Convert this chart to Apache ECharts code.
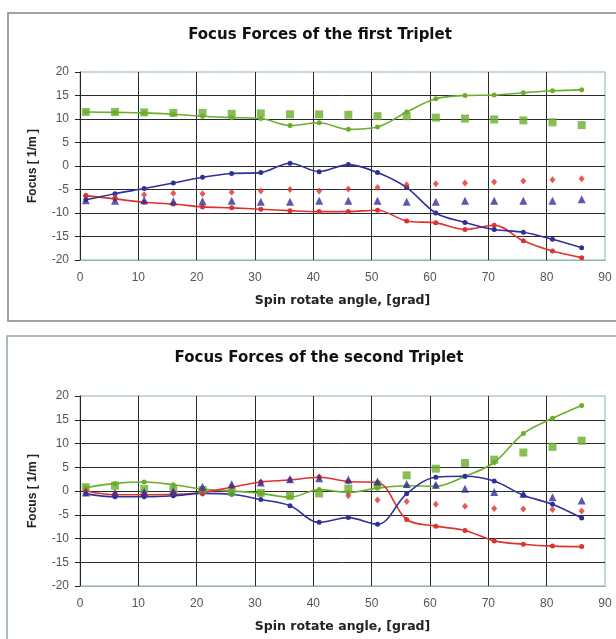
<!DOCTYPE html>
<html>
<head>
<meta charset="utf-8">
<script src="https://cdn.jsdelivr.net/npm/echarts@6/dist/echarts.min.js"></script>
<style>
html,body{margin:0;padding:0;background:#fff;}
#chart{width:616px;height:639px;}
</style>
</head>
<body>
<div id="chart"></div>
<script>
// ---- data ----
var angles = [1, 6, 11, 16, 21, 26, 31, 36, 41, 46, 51, 56, 61, 66, 71, 76, 81, 86];
var xTicks = [0, 10, 20, 30, 40, 50, 60, 70, 80, 90];
var yTicks = [-20, -15, -10, -5, 0, 5, 10, 15, 20];

// first triplet
var t1GreenLine  = [11.5, 11.4, 11.3, 11.0, 10.6, 10.3, 10.1, 8.6, 9.2, 7.8, 8.3, 11.5, 14.3, 15.0, 15.1, 15.6, 16.0, 16.2];
var t1GreenPts   = [11.5, 11.5, 11.4, 11.3, 11.3, 11.1, 11.2, 11.0, 11.0, 10.9, 10.6, 10.6, 10.3, 10.1, 9.9, 9.7, 9.3, 8.7];
var t1RedLine    = [-6.3, -7.0, -7.7, -8.1, -8.7, -8.9, -9.2, -9.5, -9.7, -9.7, -9.4, -11.7, -12.1, -13.5, -12.6, -15.9, -18.1, -19.5];
var t1RedPts     = [-6.4, -6.7, -6.1, -5.8, -5.9, -5.6, -5.3, -5.0, -5.3, -4.9, -4.6, -4.0, -3.8, -3.6, -3.4, -3.2, -2.9, -2.7];
var t1BlueLine   = [-7.2, -5.9, -4.8, -3.6, -2.4, -1.6, -1.4, 0.6, -1.2, 0.3, -1.4, -4.6, -10.0, -12.0, -13.5, -14.1, -15.6, -17.4];
var t1BluePts    = [-7.3, -7.4, -7.3, -7.5, -7.5, -7.4, -7.6, -7.6, -7.4, -7.4, -7.4, -7.6, -7.6, -7.4, -7.4, -7.4, -7.4, -7.1];

// second triplet
var t2GreenLine  = [0.7, 1.6, 1.9, 1.3, 0.4, 0.0, -0.5, -1.3, 0.3, -0.3, 0.6, 1.1, 1.0, 3.1, 6.0, 12.1, 15.3, 18.0];
var t2GreenPts   = [0.8, 1.1, 0.4, 0.3, 0.2, -0.2, -0.4, -1.0, -0.5, 0.5, 1.3, 3.3, 4.7, 5.9, 6.6, 8.1, 9.3, 10.6];
var t2RedLine    = [0.0, -0.8, -0.8, -0.7, -0.3, 0.8, 1.9, 2.3, 2.9, 2.0, 1.8, -6.0, -7.4, -8.3, -10.5, -11.2, -11.6, -11.7];
var t2RedPts     = [0.0, -0.5, -0.3, -0.3, -0.5, 1.0, 1.8, 2.4, 3.0, -1.0, -1.9, -2.2, -2.8, -3.2, -3.7, -3.8, -3.9, -4.2];
var t2BlueLine   = [-0.6, -1.2, -1.2, -1.0, -0.5, -0.7, -1.8, -3.1, -6.6, -5.6, -7.0, -0.6, 2.9, 3.1, 2.1, -0.9, -2.8, -5.7];
var t2BluePts    = [-0.3, -0.4, -0.2, 0.0, 0.9, 1.4, 1.8, 2.5, 2.7, 2.4, 2.0, 1.5, 1.3, 0.5, -0.2, -0.6, -1.3, -2.0];

var titles = ['Focus Forces of the first Triplet', 'Focus Forces of the second Triplet'];
var xName = 'Spin rotate angle, [grad]';
var yName = 'Focus [ 1/m ]';

// ---- styles ----
var GREEN = '#6cae2c', RED = '#e0322c', BLUE = '#30309c';
var FONT = 'Liberation Sans';
var WIDE = 'DejaVu Sans';

function pairs(vals) { return vals.map(function (v, i) { return [angles[i], v]; }); }

function lineSeries(vals, color, gi) {
  return { type: 'line', xAxisIndex: gi, yAxisIndex: gi, data: pairs(vals), smooth: 0.35,
    symbol: 'circle', symbolSize: 5, showAllSymbol: true,
    lineStyle: { color: color, width: 1.6 }, itemStyle: { color: color }, z: 3 };
}
function scatterSeries(vals, color, sym, size, gi) {
  return { type: 'scatter', xAxisIndex: gi, yAxisIndex: gi, data: pairs(vals),
    symbol: sym, symbolSize: size, itemStyle: { color: color }, z: 4 };
}

function xAxis(gi) {
  return { type: 'value', gridIndex: gi, min: xTicks[0], max: xTicks[xTicks.length - 1], interval: 10,
    name: xName, nameLocation: 'middle', nameGap: 34,
    nameTextStyle: { fontFamily: WIDE, fontWeight: 'bold', fontSize: 12.5, color: '#222' },
    axisLine: { show: true, onZero: false, lineStyle: { color: '#8fb3a6', width: 1 } },
    axisTick: { show: false },
    axisLabel: { margin: 12, fontFamily: FONT, fontSize: 12, color: '#555' },
    splitLine: { show: true, showMinLine: false, showMaxLine: false, lineStyle: { color: '#2a2a2a', width: 1 } } };
}
function yAxis(gi) {
  return { type: 'value', gridIndex: gi, min: yTicks[0], max: yTicks[yTicks.length - 1], interval: 5,
    name: yName, nameLocation: 'middle', nameGap: 41, nameRotate: 90,
    nameTextStyle: { fontFamily: FONT, fontWeight: 'bold', fontSize: 12, color: '#222' },
    axisLine: { show: true, onZero: false, lineStyle: { color: '#222', width: 1 } },
    axisTick: { show: true, inside: false, length: 5, lineStyle: { color: '#222' } },
    axisLabel: { margin: 11, fontFamily: FONT, fontSize: 12, color: '#555' },
    splitLine: { show: true, showMinLine: false, showMaxLine: false, lineStyle: { color: '#2a2a2a', width: 1 } } };
}

var chart = echarts.init(document.getElementById('chart'), null, { renderer: 'canvas' });
var option = {
  backgroundColor: '#fff',
  animation: false,
  graphic: [
    { type: 'rect', shape: { x: 8, y: 13, width: 620, height: 308 }, style: { fill: 'none', stroke: '#7d8580', lineWidth: 1.5 }, z: -1 },
    { type: 'rect', shape: { x: 7, y: 336, width: 620, height: 312 }, style: { fill: 'none', stroke: '#8fa89e', lineWidth: 1.5 }, z: -1 }
  ],
  title: [
    { text: titles[0], left: 315, top: 23, textAlign: 'center',
      textStyle: { fontFamily: WIDE, fontWeight: 'bold', fontSize: 15, color: '#111' } },
    { text: titles[1], left: 314, top: 346, textAlign: 'center',
      textStyle: { fontFamily: WIDE, fontWeight: 'bold', fontSize: 15, color: '#111' } }
  ],
  grid: [
    { left: 80, top: 72, width: 525, height: 188, show: true, backgroundColor: '#fff', borderColor: '#8fb3a6', borderWidth: 1 },
    { left: 80, top: 396, width: 525, height: 190, show: true, backgroundColor: '#fff', borderColor: '#8fb3a6', borderWidth: 1 }
  ],
  xAxis: [xAxis(0), xAxis(1)],
  yAxis: [yAxis(0), yAxis(1)],
  series: [
    lineSeries(t1GreenLine, GREEN, 0),
    scatterSeries(t1GreenPts, GREEN, 'rect', 8, 0),
    lineSeries(t1RedLine, RED, 0),
    scatterSeries(t1RedPts, RED, 'diamond', [6, 7], 0),
    lineSeries(t1BlueLine, BLUE, 0),
    scatterSeries(t1BluePts, BLUE, 'triangle', 8, 0),
    lineSeries(t2GreenLine, GREEN, 1),
    scatterSeries(t2GreenPts, GREEN, 'rect', 8, 1),
    lineSeries(t2RedLine, RED, 1),
    scatterSeries(t2RedPts, RED, 'diamond', [6, 7], 1),
    lineSeries(t2BlueLine, BLUE, 1),
    scatterSeries(t2BluePts, BLUE, 'triangle', 8, 1)
  ]
};
chart.setOption(option);
</script>
</body>
</html>
